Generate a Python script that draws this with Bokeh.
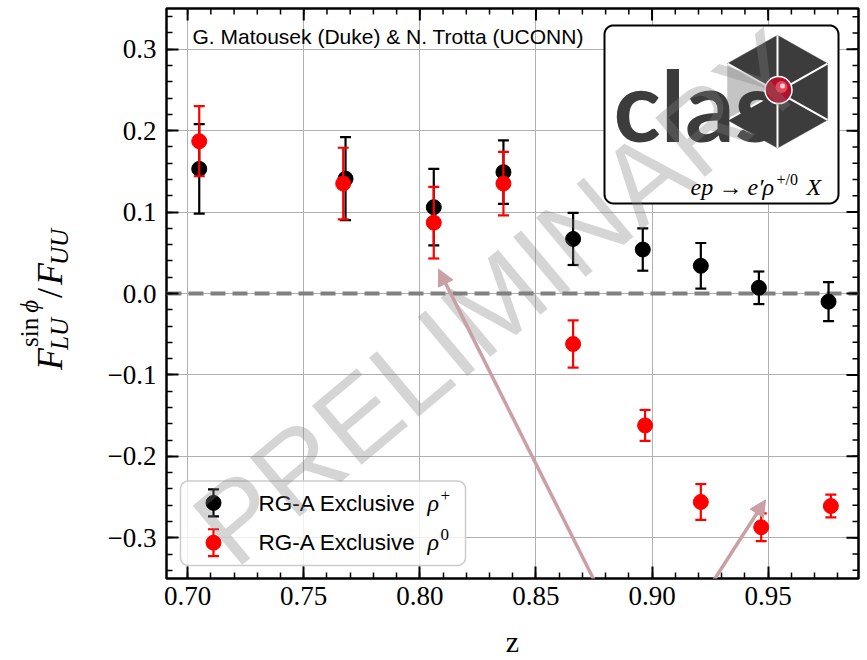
import numpy as np
from bokeh.plotting import figure
from bokeh.layouts import row
from bokeh.models import Range1d, FixedTicker, CustomJSTickFormatter, Label, Arrow, NormalHead, Div
from bokeh.core.properties import value
from bokeh.embed import file_html
from bokeh.resources import INLINE

# ---------------- data ----------------
Z_RHOP = [0.705, 0.768, 0.806, 0.836, 0.866, 0.896, 0.921, 0.946, 0.976]
A_RHOP = [0.153, 0.141, 0.106, 0.149, 0.067, 0.054, 0.034, 0.007, -0.010]
E_RHOP = [0.055, 0.051, 0.047, 0.039, 0.032, 0.026, 0.028, 0.020, 0.024]

Z_RHO0 = [0.705, 0.767, 0.806, 0.836, 0.866, 0.897, 0.921, 0.947, 0.977]
A_RHO0 = [0.187, 0.135, 0.087, 0.135, -0.062, -0.162, -0.256, -0.287, -0.261]
E_RHO0 = [0.043, 0.044, 0.044, 0.039, 0.029, 0.019, 0.022, 0.017, 0.014]

X_TICKS = [0.70, 0.75, 0.80, 0.85, 0.90, 0.95]
Y_TICKS = [-0.3, -0.2, -0.1, 0.0, 0.1, 0.2, 0.3]
LABEL_RHOP = "RG-A Exclusive"
LABEL_RHO0 = "RG-A Exclusive"
CREDIT = "G. Matousek (Duke) & N. Trotta (UCONN)"
WATERMARK = "PRELIMINARY"

# ---------------- layout (picture pixels) ----------------
DW = 90                       # width of the y-label strip
W, H = 867 - DW, 660
ML, MR, MT, MB = 166 - DW, 9, 8, 79
FL, FT = DW + ML, MT
FW, FH = W - ML - MR, H - MT - MB
X0, X1 = 0.6909, 0.9889
Y0, Y1 = -0.35, 0.35


def dx(sx):
    return X0 + (sx - FL) / FW * (X1 - X0)


def dy(sy):
    return Y1 - (sy - FT) / FH * (Y1 - Y0)


def lx(n):
    return n / FW * (X1 - X0)


def ly(n):
    return n / FH * (Y1 - Y0)


p = figure(width=W, height=H, x_range=Range1d(X0, X1), y_range=Range1d(Y0, Y1),
           output_backend="svg", toolbar_location=None, tools="",
           min_border_left=ML, min_border_right=MR, min_border_top=MT, min_border_bottom=MB)
p.background_fill_color = "white"
p.border_fill_color = "white"
p.outline_line_color = "black"
p.outline_line_width = 2.5

x_minor = list(np.round(np.arange(0.70, 0.9851, 0.01), 2))
y_minor = list(np.round(np.arange(-0.34, 0.3451, 0.02), 2))
p.xaxis.ticker = FixedTicker(ticks=X_TICKS, minor_ticks=x_minor)
p.yaxis.ticker = FixedTicker(ticks=Y_TICKS, minor_ticks=y_minor)
p.xaxis.formatter = CustomJSTickFormatter(code="return tick.toFixed(2)")
p.yaxis.formatter = CustomJSTickFormatter(code="return tick.toFixed(1).replace('-', '\u2212')")
for ax in (p.xaxis[0], p.yaxis[0]):
    ax.axis_line_color = None
    ax.major_tick_in = 12
    ax.major_tick_out = 0
    ax.minor_tick_in = 6
    ax.minor_tick_out = 0
    ax.major_tick_line_width = 2
    ax.minor_tick_line_width = 1.5
    ax.major_tick_line_color = "black"
    ax.minor_tick_line_color = "black"
    ax.major_label_text_font = "Liberation Serif"
    ax.major_label_text_font_size = "27px"
    ax.major_label_text_color = "black"
p.xaxis.major_label_standoff = 8
p.yaxis.major_label_standoff = 10
p.xaxis.axis_label = "z"
p.xaxis.axis_label_text_font = "Liberation Serif"
p.xaxis.axis_label_text_font_size = "30px"
p.xaxis.axis_label_text_font_style = "normal"
p.xaxis.axis_label_text_color = "black"
p.xaxis.axis_label_standoff = 17
p.grid.grid_line_color = "#b0b0b0"
p.grid.grid_line_width = 1

# zero line
p.hspan(y=[0.0], line_color="#808080", line_width=4, line_dash="15 7")


def series(xs, ys, es, color):
    lo = [y - e for y, e in zip(ys, es)]
    hi = [y + e for y, e in zip(ys, es)]
    p.segment(x0=xs, y0=lo, x1=xs, y1=hi, line_color=color, line_width=2.2)
    p.scatter(x=xs + xs, y=lo + hi, marker="dash", size=11, line_color=color, line_width=2.2)
    p.scatter(x=xs, y=ys, marker="circle", size=15, fill_color=color, line_color=color)


series(Z_RHOP, A_RHOP, E_RHOP, "black")
series(Z_RHO0, A_RHO0, E_RHO0, "red")

# top / right inward ticks
nmaj, nmin = len(X_TICKS), len(x_minor)
p.segment(x0=X_TICKS, y0=[Y1] * nmaj, x1=X_TICKS, y1=[Y1 - ly(12)] * nmaj, line_color="black", line_width=2)
p.segment(x0=x_minor, y0=[Y1] * nmin, x1=x_minor, y1=[Y1 - ly(6)] * nmin, line_color="black", line_width=1.5)
p.segment(x0=[X1] * len(Y_TICKS), y0=Y_TICKS, x1=[X1 - lx(12)] * len(Y_TICKS), y1=Y_TICKS,
          line_color="black", line_width=2)
p.segment(x0=[X1] * len(y_minor), y0=y_minor, x1=[X1 - lx(6)] * len(y_minor), y1=y_minor,
          line_color="black", line_width=1.5)


def rounded(x0, y0, x1, y1, r, n=10):
    xs, ys = [], []
    for cx, cy, a0 in ((x1 - r, y0 + r, -90), (x1 - r, y1 - r, 0), (x0 + r, y1 - r, 90), (x0 + r, y0 + r, 180)):
        for t in np.deg2rad(np.linspace(a0, a0 + 90, n)):
            xs.append(dx(cx + r * np.cos(t)))
            ys.append(dy(cy + r * np.sin(t)))
    return xs, ys


def txt(sx, base, s, font, fs, color="black", style="normal", align="left", k=0.345):
    p.text(x=[dx(sx)], y=[dy(base - k * fs)], text=[s], text_font=value(font), text_font_size=f"{fs}px",
           text_font_style=style, text_color=color, text_align=align, text_baseline="middle")


# ---- logo box ----
bx, by = rounded(604, 25, 838, 204, 9)
p.patch(x=bx, y=by, fill_color="white", line_color="black", line_width=2)
cx, cy = 777, 91.7
verts = [(777, 35), (827, 63.3), (827, 120), (777, 148.3), (727, 120), (727, 63.3)]
cols = ["#3c3c3c", "#3c3c3c", "#3c3c3c", "#3c3c3c", "#c4c4c4", "#3c3c3c"]
for i in range(6):
    a, b = verts[i], verts[(i + 1) % 6]
    p.patch(x=[dx(cx), dx(a[0]), dx(b[0])], y=[dy(cy), dy(a[1]), dy(b[1])],
            fill_color=cols[i], line_color=cols[i], line_width=0.5)
p.multi_line(xs=[[dx(cx), dx(v[0])] for v in verts], ys=[[dy(cy), dy(v[1])] for v in verts],
             line_color="white", line_width=2)
txt(613, 140, "clas", "Lato", 98, color="#3c3c3c", style="bold", k=0.37)
p.scatter(x=[dx(778)], y=[dy(90)], size=27, fill_color="#b3102a", line_color="white", line_width=1.5)
p.scatter(x=[dx(781)], y=[dy(87)], size=12, fill_color="#e2485b", line_color=None)
p.scatter(x=[dx(782)], y=[dy(86)], size=5, fill_color="#f8d0d5", line_color=None)
txt(690, 196, "ep", "Liberation Serif", 24, style="italic")
txt(718, 196, "\u2192", "Liberation Serif", 24)
txt(747, 196, "e\u2032", "Liberation Serif", 24, style="italic")
txt(762, 196, "\u03c1", "Liberation Serif", 24, style="italic")
txt(776, 185, "+/0", "Liberation Serif", 16)
txt(806, 196, "X", "Liberation Serif", 24, style="italic")

# ---- credit ----
txt(192, 43, CREDIT, "Liberation Sans", 21)

# ---- legend ----
lgx, lgy = rounded(180, 483, 465, 568, 8)
p.patch(x=lgx, y=lgy, fill_color="white", fill_alpha=0.8, line_color="#cccccc", line_width=1.5)
for yc, color, lab, sup in ((505, "black", LABEL_RHOP, "+"), (545, "red", LABEL_RHO0, "0")):
    p.segment(x0=[dx(213)], y0=[dy(yc - 13.5)], x1=[dx(213)], y1=[dy(yc + 13.5)], line_color=color, line_width=2.2)
    p.scatter(x=[dx(213), dx(213)], y=[dy(yc - 13.5), dy(yc + 13.5)], marker="dash", size=11,
              line_color=color, line_width=2.2)
    p.scatter(x=[dx(213)], y=[dy(yc)], size=15, fill_color=color, line_color=color)
    txt(258, yc + 8, lab, "Liberation Sans", 22.5)
    txt(427, yc + 8, "\u03c1", "Liberation Serif", 24, style="italic")
    txt(440, yc - 2, sup, "Liberation Serif", 17)

# ---- watermark ----
p.add_layout(Label(x=dx(500), y=dy(299), text=WATERMARK, angle=np.deg2rad(40), text_font="Liberation Sans",
                   text_font_size="112px", text_color="#808080", text_alpha=0.33,
                   text_align="center", text_baseline="middle"))

# ---- arrows ----
ac = "#c9a0a4"
for tx, ty in ((438, 270), (765, 502)):
    p.add_layout(Arrow(end=NormalHead(size=16, fill_color=ac, line_color=ac, line_width=1),
                       x_start=dx(646), y_start=dy(688), x_end=dx(tx), y_end=dy(ty),
                       line_color=ac, line_width=3.5))

# ---- y axis label (HTML text, rotated) ----
def piece(html, base_x, start_y, fs, italic=False):
    left = base_x - 0.8375 * fs
    st = "font-style:italic;" if italic else ""
    return (f'<span style="position:absolute;left:{left:.1f}px;top:{start_y:.1f}px;transform-origin:0 0;'
            f'transform:rotate(-90deg);font-family:\'Liberation Serif\',serif;font-size:{fs}px;line-height:1;'
            f'{st}white-space:nowrap;color:#000">{html}</span>')


y0 = 370
parts = [
    piece("F", 62, y0, 36, True),
    piece("LU", 67.5, y0 - 20, 25, True),
    piece("sin&#8201;<i>&#981;</i>", 38, y0 - 23, 25),
    piece("/", 62, y0 - 72, 36),
    piece("F", 62, y0 - 85, 36, True),
    piece("UU", 67.5, y0 - 105, 25, True),
]
div = Div(text=f'<div style="position:relative;width:{DW}px;height:{H}px;">' + "".join(parts) + "</div>",
          width=DW, height=H, margin=0)

open("out.html", "w").write(file_html(row(div, p), INLINE))
